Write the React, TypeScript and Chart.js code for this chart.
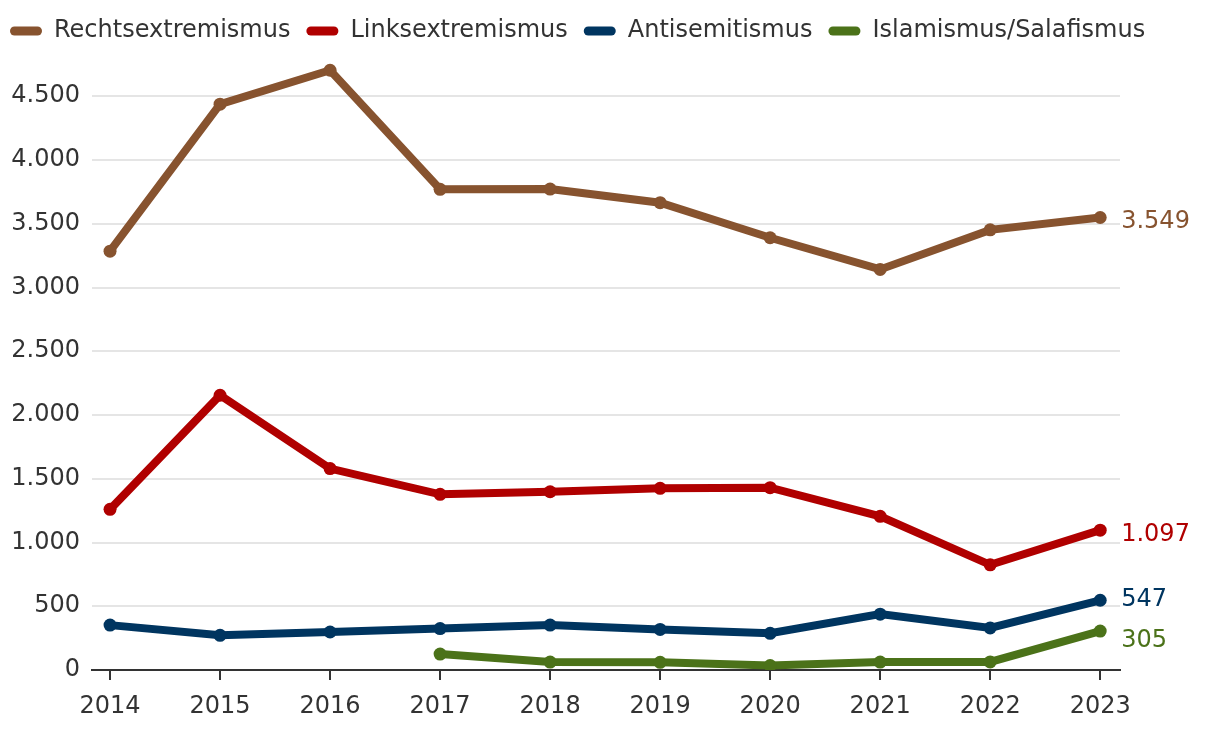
import React, { useEffect, useRef } from "react";
import { Chart, registerables } from "chart.js";

Chart.register(...registerables);

const years = [2014, 2015, 2016, 2017, 2018, 2019, 2020, 2021, 2022, 2023];
const rechts = [3285, 4438, 4704, 3770, 3772, 3665, 3390, 3142, 3452, 3549];
const links = [1260, 2155, 1580, 1378, 1398, 1425, 1430, 1205, 825, 1097];
const anti = [352, 272, 298, 325, 352, 318, 288, 438, 330, 547];
const islam = [null, null, null, 125, 62, 60, 35, 62, 63, 305];
const yTicks = [0, 500, 1000, 1500, 2000, 2500, 3000, 3500, 4000, 4500];
const seriesNames = ["Rechtsextremismus", "Linksextremismus", "Antisemitismus", "Islamismus/Salafismus"];
const seriesColors = ["#87532f", "#b00000", "#003560", "#4b7219"];
const labelNudge = [4, 5, 0, 10];

const FONT = "'DejaVu Sans', Verdana, sans-serif";

function fmt(v: number): string {
  return String(Math.round(v)).replace(/\B(?=(\d{3})+(?!\d))/g, ".");
}

export default function App() {
  const ref = useRef<HTMLCanvasElement | null>(null);
  useEffect(() => {
    if (!ref.current) return;
    const all = [rechts, links, anti, islam];
    const datasets = all.map((arr, i) => ({
      label: seriesNames[i],
      data: years.map((y, j) => ({ x: y, y: arr[j] })),
      borderColor: seriesColors[i],
      backgroundColor: seriesColors[i],
      pointBackgroundColor: seriesColors[i],
      borderWidth: 8,
      pointRadius: 6.5,
      pointBorderWidth: 0,
      tension: 0,
      spanGaps: false,
      yAxisID: "y",
    }));
    const endLabels = {
      id: "endLabels",
      afterDatasetsDraw(chart: any) {
        const ctx = chart.ctx;
        ctx.save();
        ctx.font = `24px ${FONT}`;
        ctx.textBaseline = "middle";
        ctx.textAlign = "left";
        chart.data.datasets.forEach((ds: any, i: number) => {
          const meta = chart.getDatasetMeta(i);
          const last = meta.data[meta.data.length - 1];
          const val = all[i][all[i].length - 1] as number;
          ctx.fillStyle = seriesColors[i];
          ctx.fillText(fmt(val), last.x + 21, last.y + labelNudge[i]);
        });
        ctx.restore();
      },
    };
    const legendHeight = {
      id: "legendHeight",
      beforeInit(chart: any) {
        const orig = chart.legend.fit;
        chart.legend.fit = function () {
          orig.bind(chart.legend)();
          this.height = 58;
        };
      },
      afterLayout(chart: any) {
        chart.legend.left = -6;
        chart.legend.top = 3;
      },
    };
    const chart = new Chart(ref.current, {
      type: "line",
      data: { datasets },
      plugins: [endLabels, legendHeight],
      options: {
        animation: false,
        responsive: false,
        maintainAspectRatio: false,
        layout: { padding: 0 },
        plugins: {
          tooltip: { enabled: false },
          legend: {
            position: "top",
            align: "start",
            labels: {
              boxWidth: 32,
              boxHeight: 9,
              useBorderRadius: true,
              borderRadius: 4.5,
              color: "#333333",
              padding: 16,
              font: { size: 24, family: FONT },
              generateLabels(chart: any) {
                const items = Chart.defaults.plugins.legend.labels.generateLabels(chart);
                return items.map((it: any) => ({ ...it, lineWidth: 0, strokeStyle: "rgba(0,0,0,0)" }));
              },
            },
          },
        },
        scales: {
          x: {
            type: "linear",
            min: 2013.836,
            max: 2023.18,
            afterFit(scale: any) {
              scale.height = 62;
            },
            afterBuildTicks(scale: any) {
              scale.ticks = years.map((y) => ({ value: y }));
            },
            border: { display: true, color: "#333333", width: 2 },
            grid: {
              drawOnChartArea: false,
              drawTicks: true,
              tickLength: 10,
              color: "#333333",
              lineWidth: 2,
            },
            ticks: {
              color: "#333333",
              padding: 12,
              maxRotation: 0,
              autoSkip: false,
              font: { size: 24, family: FONT },
              callback: (v: any) => String(v),
            },
          },
          y: {
            position: "left",
            min: 0,
            max: 4800,
            afterFit(scale: any) {
              scale.width = 92;
            },
            afterBuildTicks(scale: any) {
              scale.ticks = yTicks.map((v) => ({ value: v }));
            },
            border: { display: false },
            grid: {
              drawTicks: false,
              color: "#e5e5e5",
              lineWidth: 2,
            },
            ticks: {
              color: "#333333",
              padding: 12,
              autoSkip: false,
              font: { size: 24, family: FONT },
              callback: (v: any) => fmt(Number(v)),
            },
          },
          yRight: {
            position: "right",
            display: true,
            min: 0,
            max: 4800,
            afterFit(scale: any) {
              scale.width = 100;
            },
            border: { display: false },
            grid: { display: false, drawTicks: false },
            ticks: { display: false },
          },
        },
      } as any,
    });
    return () => chart.destroy();
  }, []);
  return (
    <div style={{ position: "fixed", left: 0, top: 0, width: 1220, height: 732, background: "#fff" }}>
      <canvas ref={ref} width={1220} height={732} style={{ width: 1220, height: 732 }} />
    </div>
  );
}
